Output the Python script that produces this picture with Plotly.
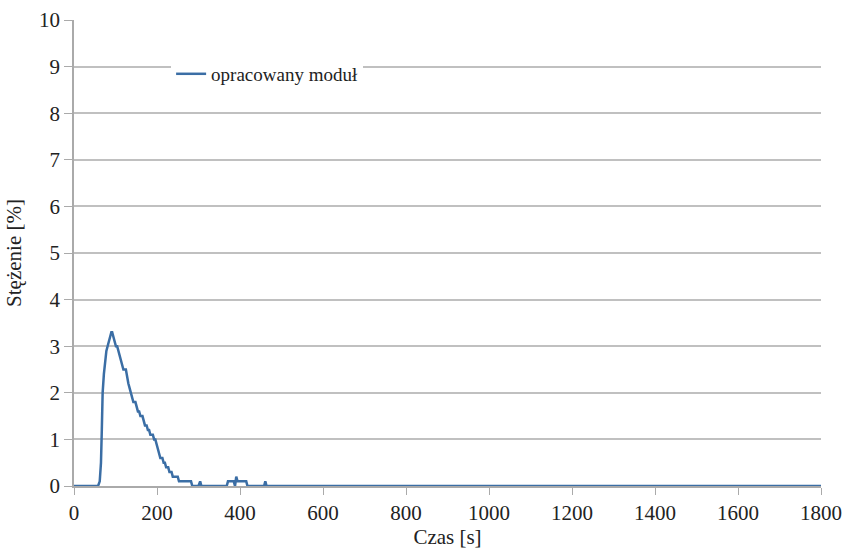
import plotly.graph_objects as go

czas = [0, 58, 62, 65, 67, 69, 72, 75, 78, 81, 84, 87, 90, 92, 95, 98, 101, 104, 107, 110,
        113, 116, 119, 125, 128, 131, 134, 137, 140, 143, 148, 151, 154, 157, 160, 165, 168,
        171, 175, 178, 181, 184, 190, 193, 196, 199, 202, 205, 208, 213, 216, 219, 222, 227,
        230, 235, 238, 243, 250, 253, 265, 270, 282, 285, 300, 304, 307, 368, 371, 385, 388,
        391, 394, 400, 415, 418, 458, 461, 464, 1800]
stezenie = [0, 0, 0.1, 0.5, 1.2, 2.0, 2.4, 2.7, 2.9, 3.0, 3.1, 3.2, 3.3, 3.3, 3.2, 3.1, 3.0,
            3.0, 2.9, 2.8, 2.7, 2.6, 2.5, 2.5, 2.3, 2.2, 2.1, 2.0, 1.9, 1.8, 1.8, 1.7, 1.6,
            1.6, 1.5, 1.5, 1.4, 1.3, 1.3, 1.2, 1.2, 1.1, 1.1, 1.0, 1.0, 0.9, 0.8, 0.7, 0.6,
            0.6, 0.5, 0.5, 0.4, 0.4, 0.3, 0.3, 0.2, 0.2, 0.2, 0.1, 0.1, 0.1, 0.1, 0.0, 0.0,
            0.1, 0.0, 0.0, 0.1, 0.1, 0.0, 0.2, 0.1, 0.1, 0.1, 0.0, 0.0, 0.1, 0.0, 0.0]

x_ticks = list(range(0, 1801, 200))
y_ticks = list(range(0, 11))

font = "Liberation Serif, Times New Roman, serif"
tf = dict(family=font, size=21, color="#222")
fig = go.Figure()
fig.add_trace(go.Scatter(x=czas, y=stezenie, mode="lines", name="opracowany moduł",
                         line=dict(color="#3b6ea5", width=2.5)))

fig.update_layout(
    width=845, height=554,
    margin=dict(l=74, r=24, t=20, b=68, autoexpand=False),
    paper_bgcolor="white", plot_bgcolor="white",
    font=tf,
    showlegend=True,
    legend=dict(x=0.13, y=0.925, xanchor="left", yanchor="top",
                bgcolor="white", font=dict(size=19, family=font, color="#222"), itemwidth=30),
    xaxis=dict(range=[0, 1800], tickvals=x_ticks, showgrid=False, automargin=False,
               showline=True, linecolor="#aaa", linewidth=1.5, tickfont=tf,
               ticks="outside", ticklen=7, tickcolor="#aaa", zeroline=False,
               title=dict(text="Czas [s]", standoff=4, font=tf)),
    yaxis=dict(range=[0, 10], tickvals=y_ticks, showgrid=True, gridcolor="#c0c0c0",
               gridwidth=1.5, showline=True, linecolor="#aaa", linewidth=1.5, automargin=False,
               ticks="outside", ticklen=8, tickcolor="#aaa", zeroline=False, tickfont=tf,
               title=dict(text="Stężenie [%]", standoff=12, font=tf)),
)
fig.write_html("out.html")
